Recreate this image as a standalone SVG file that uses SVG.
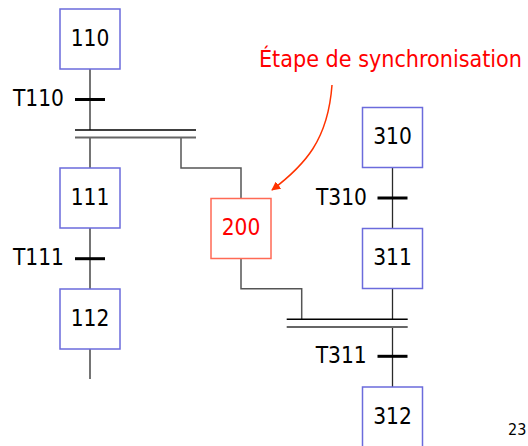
<svg xmlns="http://www.w3.org/2000/svg" width="528" height="446" viewBox="0 0 528 446">
  <style>
    .step { fill: #ffffff; stroke: #6b6bdc; stroke-width: 1.5; }
    .step-sync { fill: #ffffff; stroke: #ff6a55; stroke-width: 1.5; }
    .num { font-family: "DejaVu Sans Condensed", "DejaVu Sans", sans-serif; font-size: 22.5px; fill: #000000; text-anchor: middle; }
    .num-sync { fill: #ff0000; }
    .tlabel { font-family: "DejaVu Sans Condensed", "DejaVu Sans", sans-serif; font-size: 22.5px; fill: #000000; text-anchor: end; }
    .link { fill: none; stroke: #2a2a2a; stroke-width: 1.3; }
    .branch { fill: none; stroke: #555555; stroke-width: 1.5; }
    .trans { stroke: #000000; stroke-width: 3; }
    .sync-top { stroke: #000000; stroke-width: 1.6; }
    .sync-bot { stroke: #666666; stroke-width: 2.2; }
  </style>
  <defs>
    <marker id="arrowhead" viewBox="0 0 10 10" refX="9" refY="5" markerWidth="9" markerHeight="9" orient="auto" markerUnits="userSpaceOnUse">
      <path d="M0,0 L10,5 L0,10 z" fill="#ff3300"/>
    </marker>
  </defs>

  <!-- connectors: links between steps, transitions and synchronisation bars -->
  <g id="connectors">
    <line class="link" x1="90" y1="69" x2="90" y2="130"/>
    <line class="link" x1="90" y1="137.5" x2="90" y2="168"/>
    <line class="link" x1="90" y1="228" x2="90" y2="289"/>
    <line class="link" x1="90" y1="349" x2="90" y2="379"/>
    <path class="branch" d="M181,137.5 V168 H241 V198.5"/>
    <path class="branch" d="M241,258.5 V288.7 H301.7 V319.3"/>
    <line class="link" x1="392.5" y1="167.5" x2="392.5" y2="228.5"/>
    <line class="link" x1="392.5" y1="288.5" x2="392.5" y2="319.3"/>
    <line class="link" x1="392.5" y1="327" x2="392.5" y2="387"/>

    <!-- divergence in AND after T110 -->
    <line class="sync-top" x1="75" y1="130" x2="196" y2="130"/>
    <line class="sync-bot" x1="75" y1="137.5" x2="196" y2="137.5"/>
    <!-- convergence in AND before T311 -->
    <line class="sync-top" x1="286.7" y1="319.3" x2="407.7" y2="319.3"/>
    <line class="sync-bot" x1="286.7" y1="327" x2="407.7" y2="327"/>

    <!-- transitions -->
    <g id="t110"><line class="trans" x1="75" y1="99.5" x2="105" y2="99.5"/><text class="tlabel" x="64" y="106">T110</text></g>
    <g id="t111"><line class="trans" x1="75" y1="258.7" x2="105" y2="258.7"/><text class="tlabel" x="64" y="265">T111</text></g>
    <g id="t310"><line class="trans" x1="377.5" y1="198" x2="407.5" y2="198"/><text class="tlabel" x="367" y="204.5">T310</text></g>
    <g id="t311"><line class="trans" x1="377.5" y1="356.3" x2="407.5" y2="356.3"/><text class="tlabel" x="366.7" y="362.8">T311</text></g>

    <!-- annotation pointer -->
    <path d="M332,85 C328,140 305,165 272,190" fill="none" stroke="#ff3300" stroke-width="1.5" marker-end="url(#arrowhead)"/>
  </g>

  <!-- steps -->
  <g id="step-110"><rect class="step" x="60" y="9" width="60" height="60"/><text class="num" x="90" y="46">110</text></g>
  <g id="step-111"><rect class="step" x="60" y="168" width="60" height="60"/><text class="num" x="90" y="205">111</text></g>
  <g id="step-112"><rect class="step" x="60" y="289" width="60" height="60"/><text class="num" x="90" y="325.5">112</text></g>
  <g id="step-200"><rect class="step-sync" x="211" y="198.5" width="60" height="60"/><text class="num num-sync" x="241" y="235">200</text></g>
  <g id="step-310"><rect class="step" x="362.5" y="107.5" width="60" height="60"/><text class="num" x="392.5" y="144">310</text></g>
  <g id="step-311"><rect class="step" x="362.5" y="228.5" width="60" height="60"/><text class="num" x="392.5" y="265">311</text></g>
  <g id="step-312"><rect class="step" x="362.5" y="387" width="60" height="70"/><text class="num" x="392.5" y="423.5">312</text></g>

  <!-- annotation -->
  <text x="259" y="67" font-family="DejaVu Sans Condensed, DejaVu Sans, sans-serif" font-size="23" fill="#ff0000" textLength="263" lengthAdjust="spacingAndGlyphs">Étape de synchronisation</text>

  <!-- page number -->
  <text x="508" y="435" font-family="DejaVu Sans Condensed, DejaVu Sans, sans-serif" font-size="16" fill="#000000">23</text>
</svg>
